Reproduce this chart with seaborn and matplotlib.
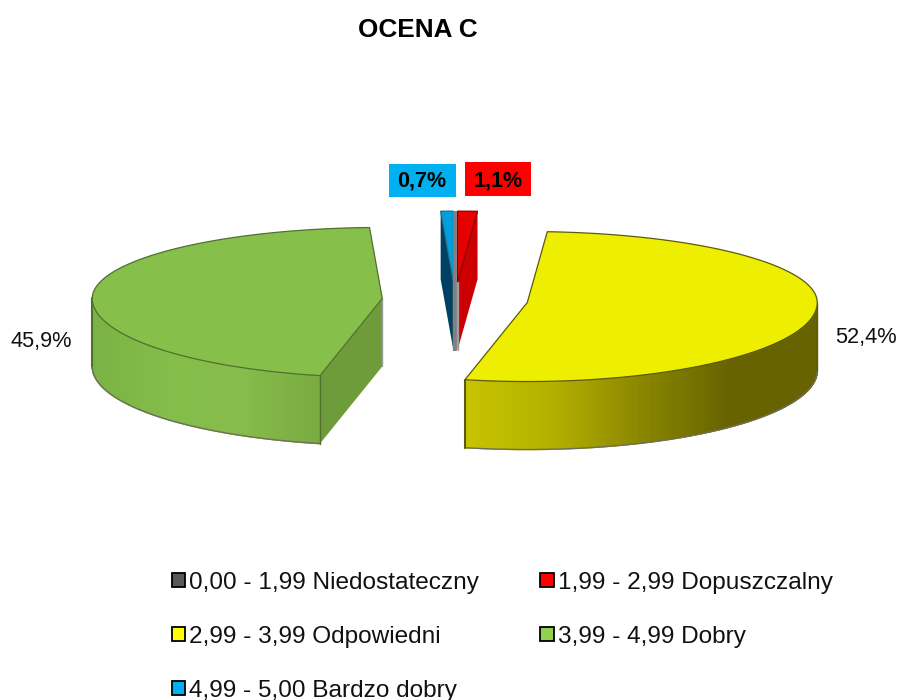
# -*- coding: utf-8 -*-
import numpy as np
import seaborn as sns
import matplotlib.pyplot as plt
from matplotlib.patches import Rectangle

title = "OCENA C"
categories = ["0,00 - 1,99 Niedostateczny", "1,99 - 2,99 Dopuszczalny", "2,99 - 3,99 Odpowiedni",
              "3,99 - 4,99 Dobry", "4,99 - 5,00 Bardzo dobry"]
shares = [0.0, 1.1, 52.4, 45.9, 0.7]

legend_colours = ["#595959", "#ff0000", "#ffff00", "#92d050", "#00b0f0"]
top_colours = ["#808080", "#e60000", "#eeee00", "#87bf4b", "#00a0e0"]
face_colours = ["#808080", "#cc0000", "#8c8a00", "#6f9c3b", "#004060"]
rim_colours = ["#808080", "#8a0000", "#5c5a10", "#4f7030", "#2a6a80"]
wall_stops = [["#808080", "#808080"], ["#cc0000", "#cc0000"],
              ["#c8c400", "#b4b000", "#8a8600", "#676300", "#676300"],
              ["#7ab344", "#85bd4b", "#85bc4b", "#7aab40"], ["#004060", "#004060"]]

# pixel geometry of the pie
CX, CY = 455, 300
RX, RY_BACK, RY_FRONT = 290, 71, 79
DEPTH, EXPLODE = 68, 73


def pie_x(cx, t, r=1.0):
    return cx + RX * r * np.sin(t)


def pie_y(cy, t, r=1.0):
    c = -np.cos(t)
    return cy + r * c * np.where(c > 0, RY_FRONT, RY_BACK)


sns.set_theme(style="white")
plt.rcParams["font.family"] = ["Liberation Sans", "DejaVu Sans"]

fig = plt.figure(figsize=(8.99, 7.0), dpi=100)
ax = fig.add_axes([0, 0, 1, 1])
ax.set_xlim(0, 899)
ax.set_ylim(700, 0)
ax.axis("off")

ends = np.cumsum(shares) / np.sum(shares) * 2 * np.pi
starts = np.concatenate([[0], ends[:-1]])

for i, share in enumerate(shares):
    t0, t1 = starts[i], ends[i]
    mid = (t0 + t1) / 2
    cx = pie_x(CX, mid, EXPLODE / RX)
    cy = CY - np.cos(mid) * EXPLODE * RY_BACK / RX

    if share == 0:
        # empty class: only the grey line stays
        ax.plot([cx - 0.5, cx - 0.5], [cy - RY_BACK, cy + DEPTH + 1], color=top_colours[i], lw=2.8, zorder=4,
                solid_capstyle="butt")
        continue

    # outer wall, front half only
    lo, hi = max(t0, np.pi / 2), min(t1, 3 * np.pi / 2)
    if hi > lo:
        ts = np.linspace(lo, hi, 200)
        xs = pie_x(cx, ts)
        ys = pie_y(cy, ts)
        pal = sns.blend_palette(wall_stops[i], 256)
        frac = (xs - xs.min()) / (xs.max() - xs.min())
        for k in range(len(ts) - 1):
            c = pal[int(frac[k] * 255)]
            ax.fill([xs[k], xs[k + 1], xs[k + 1], xs[k]],
                    [ys[k], ys[k + 1], ys[k + 1] + DEPTH, ys[k] + DEPTH],
                    facecolor=c, edgecolor=c, lw=1.0, zorder=2)
        ax.plot(xs, ys + DEPTH, color="#6f6f58", lw=1.0, zorder=3)
        ax.plot([xs[0], xs[0]], [ys[0], ys[0] + DEPTH], color=rim_colours[i], lw=1.0, zorder=3)
        ax.plot([xs[-1], xs[-1]], [ys[-1], ys[-1] + DEPTH], color=rim_colours[i], lw=1.5, zorder=3)

    # cut faces turned to the viewer
    for t, turned in ((t0, np.sin(t0) < 0), (t1, np.sin(t1) > 0)):
        if turned:
            ex, ey = pie_x(cx, t), pie_y(cy, t)
            ax.fill([cx, ex, ex, cx], [cy, ey, ey + DEPTH, cy + DEPTH],
                    color=face_colours[i], lw=0, zorder=2.5)
            ax.plot([cx, cx], [cy, cy + DEPTH], color="#9a9a9a", lw=1.0, zorder=2.6)

    # top
    ts = np.linspace(t0, t1, 200)
    px = np.concatenate([[cx], pie_x(cx, ts)])
    py = np.concatenate([[cy], pie_y(cy, ts)])
    ax.fill(px, py, facecolor=top_colours[i], edgecolor=rim_colours[i], lw=0.9, zorder=3.5)


def pct(v):
    return f"{v:.1f}%".replace(".", ",")


# value labels
ax.text(41.5, 342, pct(shares[3]), ha="center", va="center", fontsize=15.7, color="#111111")
ax.text(865.5, 338, pct(shares[2]), ha="center", va="center", fontsize=15.7, color="#111111")
ax.add_patch(Rectangle((389, 164), 67, 33, color=legend_colours[4], lw=0, zorder=5))
ax.text(422, 181, pct(shares[4]), ha="center", va="center", fontsize=15.5, fontweight="bold",
        color="black", zorder=6)
ax.add_patch(Rectangle((465, 162), 66, 34, color=legend_colours[1], lw=0, zorder=5))
ax.text(498, 181, pct(shares[1]), ha="center", va="center", fontsize=15.5, fontweight="bold",
        color="black", zorder=6)

ax.text(418, 30, title, ha="center", va="center", fontsize=18.8, fontweight="bold", color="black")

# legend fills column by column
order = [0, 2, 4, 1, 3]
handles = [Rectangle((0, 0), 1, 1, facecolor=legend_colours[i], edgecolor="black", lw=1.3) for i in order]
ax.legend(handles, [categories[i] for i in order], ncol=2, frameon=False, fontsize=17.6,
          loc="upper left", bbox_to_anchor=(172 / 899, 1 - 571.5 / 700), borderaxespad=0, borderpad=0,
          handlelength=0.54, handleheight=0.54, handletextpad=0.17, labelspacing=1.31,
          columnspacing=2.5, labelcolor="#111111")

fig.savefig("out.png", dpi=100)
